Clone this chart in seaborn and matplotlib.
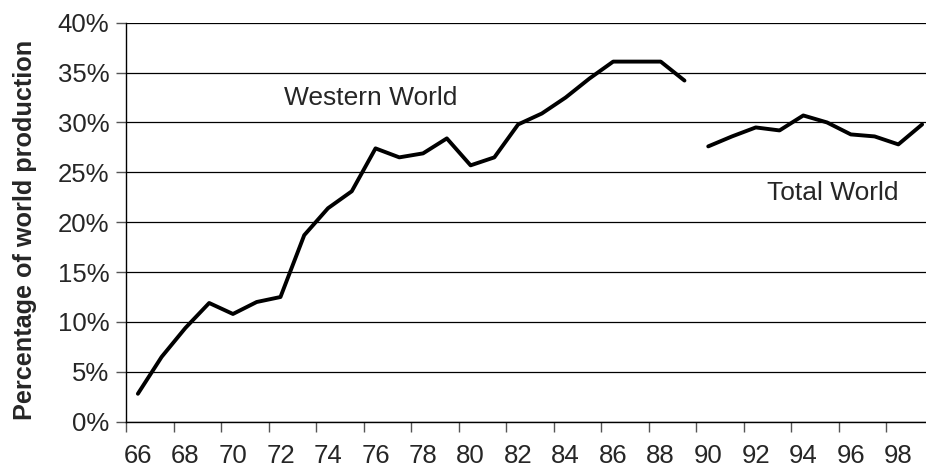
import numpy as np
import pandas as pd
import seaborn as sns
import matplotlib.pyplot as plt
from matplotlib.ticker import FixedLocator, PercentFormatter

western_years = list(range(66, 90))
western_share = [2.8, 6.5, 9.4, 11.9, 10.8, 12.0, 12.5, 18.7, 21.4, 23.1,
                 27.4, 26.5, 26.9, 28.4, 25.7, 26.5, 29.8, 30.9, 32.5, 34.4,
                 36.1, 36.1, 36.1, 34.2]
total_years = list(range(90, 100))
total_share = [27.6, 28.6, 29.5, 29.2, 30.7, 30.0, 28.8, 28.6, 27.8, 29.8]
year_labels = list(range(66, 100, 2))
y_ticks = [0, 5, 10, 15, 20, 25, 30, 35, 40]

western_df = pd.DataFrame({'year': western_years, 'share': western_share})
total_df = pd.DataFrame({'year': total_years, 'share': total_share})

sns.set_style('white')
plt.rcParams['font.family'] = ['Liberation Sans', 'DejaVu Sans']

fig = plt.figure(figsize=(9.26, 4.71), dpi=100)
ax = fig.add_axes([126 / 926, 1 - 421.7 / 471, (934 - 126) / 926, (421.7 - 22.7) / 471])

sns.lineplot(data=western_df, x='year', y='share', color='black', linewidth=2.8, ax=ax)
sns.lineplot(data=total_df, x='year', y='share', color='black', linewidth=2.8, ax=ax)

ax.set_xlim(65.5, 99.5)
ax.set_ylim(0, 40)

# gridlines
ax.set_yticks(y_ticks)
ax.yaxis.set_major_formatter(PercentFormatter(decimals=0))
ax.grid(axis='y', color='black', linewidth=0.9)
ax.grid(axis='x', visible=False)
ax.set_axisbelow(True)

# category style x axis: tick marks between categories, labels on categories
ax.xaxis.set_major_locator(FixedLocator(np.arange(65.5, 100, 2)))
ax.xaxis.set_minor_locator(FixedLocator(year_labels))
ax.set_xticklabels([])
ax.set_xticklabels([str(y) for y in year_labels], minor=True)
ax.tick_params(axis='x', which='major', direction='out', length=7, width=1, color='#555555', bottom=True)
ax.tick_params(axis='x', which='minor', length=0, labelsize=18.5, pad=16)
ax.tick_params(axis='y', direction='out', length=7, width=1, color='#555555', left=True,
               labelsize=18.5, pad=5)

for side in ['top', 'right']:
    ax.spines[side].set_visible(False)
ax.spines['left'].set_color('black')
ax.spines['bottom'].set_color('black')
ax.spines['left'].set_linewidth(1)
ax.spines['bottom'].set_linewidth(1)

ax.set_xlabel('')
ax.set_ylabel('Percentage of world production', fontsize=18.2, fontweight='bold')
ax.yaxis.set_label_coords(-0.11, 0.48)

ax.text(75.8, 32.5, 'Western World', fontsize=19, ha='center', va='center')
ax.text(95.26, 22.9, 'Total World', fontsize=19, ha='center', va='center')

fig.savefig('out.png', dpi=100)
